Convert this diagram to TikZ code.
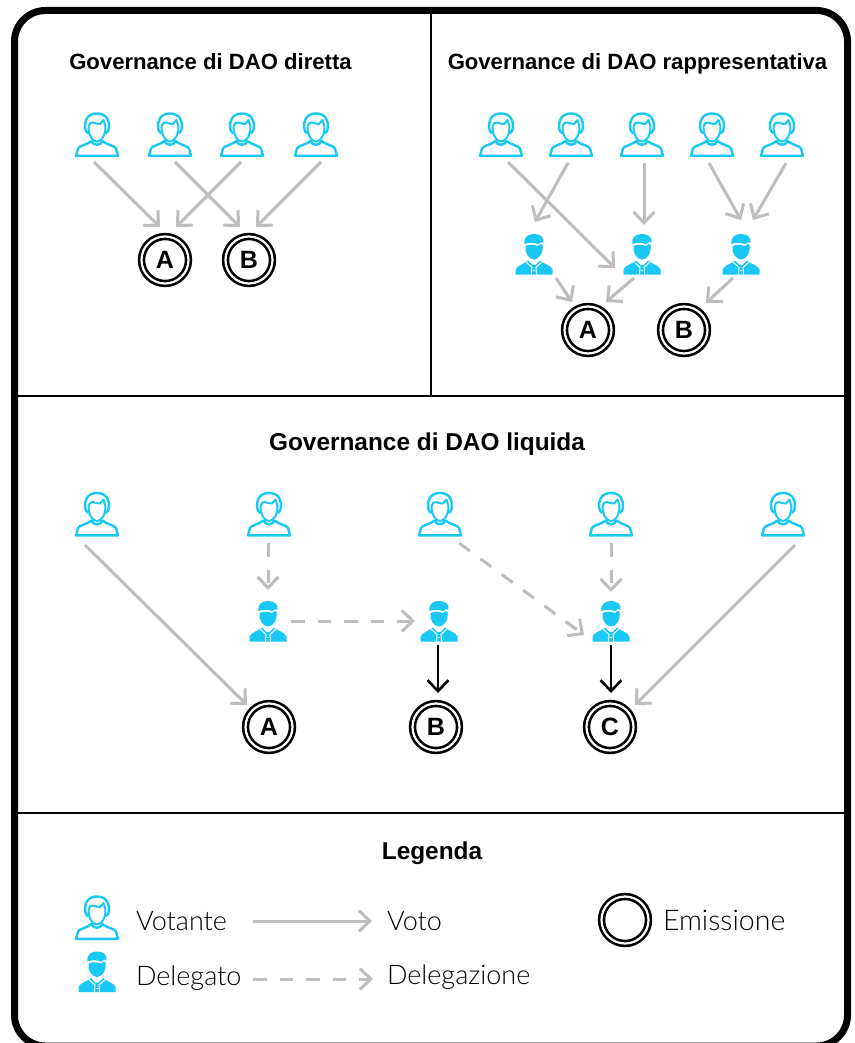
\documentclass[tikz,border=0pt]{standalone}
\usepackage{fontspec}
\setmainfont{Liberation Sans}
\newfontfamily\lightfont{Lato Light}
\usetikzlibrary{arrows.meta}
\definecolor{cy}{HTML}{19C8F5}
\definecolor{gr}{HTML}{BDBDBD}
\tikzset{
  x=1pt,y=-1pt,
  every node/.style={inner sep=0pt,outer sep=0pt},
  frame/.style={draw=black,line width=7pt,rounded corners=31pt},
  divider/.style={draw=black,line width=2pt},
  person/.style={minimum width=44pt,minimum height=45pt},
  boss/.style={minimum width=38pt,minimum height=40pt},
  issue/.style={circle,draw=black,line width=2.6pt,double=white,double distance=2.2pt,minimum size=47pt,font=\fontsize{25}{25}\selectfont\bfseries},
  title/.style={anchor=base,font=\fontsize{22.1}{24}\selectfont\bfseries},
  bigtitle/.style={anchor=base,font=\fontsize{24.4}{26}\selectfont\bfseries},
  legtext/.style={anchor=base west,text=black,font=\fontsize{27}{30}\selectfont\lightfont},
  vote/.style={draw=gr,line width=3pt,-{Straight Barb[length=11pt,width=21pt,line width=3pt]}},
  deleg/.style={vote,dash pattern=on 13.5pt off 13pt},
  strong/.style={draw=black,line width=2.6pt,-{Straight Barb[length=11pt,width=21pt,line width=2.6pt]}},
  voter/.pic={
    % shoulders and bottom
    \draw[cy,line width=2.4pt,line join=round]
      (-21,21.3) -- (-19,14) .. controls (-18.5,11.5) and (-9,10) .. (-5.5,6.5)
      .. controls (-4,11.5) and (4,11.5) .. (5.5,6.5)
      .. controls (9,10) and (18.5,11.5) .. (19,14) -- (21,21.3) -- cycle;
    % hair outline
    \draw[cy,line width=2.4pt,line join=round]
      (-8.5,-1) .. controls (-10.5,-2) and (-11.5,-4) .. (-11.8,-6)
      .. controls (-13,-13) and (-10,-21) .. (0,-21)
      .. controls (10,-21) and (13,-13) .. (11.8,-6)
      .. controls (11.5,-4) and (10.5,-2) .. (8.5,-1);
    % fringe
    \draw[cy,line width=2pt,line join=round]
      (-8.5,-8) .. controls (-8,-11) and (-6,-12.5) .. (-4,-12)
      .. controls (-1,-11) and (1,-10.5) .. (3,-10.5)
      -- (6.5,-14.5) -- (8.5,-8);
    % face
    \draw[cy,line width=2pt,line join=round]
      (-8.5,-8) .. controls (-8.5,1) and (-4.5,7) .. (0,7)
      .. controls (4.5,7) and (8.5,1) .. (8.5,-8);
  },
  bosspic/.pic={
    % hair
    \fill[cy] (-9.5,-10) .. controls (-10.5,-17) and (-6,-20) .. (0,-20)
      .. controls (6,-20) and (10.5,-17) .. (9.5,-11) -- (7.5,-12) -- (4,-9.8)
      .. controls (0,-11.8) and (-6,-11.5) .. (-9.5,-10) -- cycle;
    % face
    \fill[cy] (-8.5,-8) .. controls (-5,-9.5) and (0,-10) .. (3.7,-7.8) -- (6.8,-10) -- (8.7,-9.2)
      .. controls (9.5,-1) and (5,5.5) .. (0,5.5) .. controls (-5,5.5) and (-9.5,-1) .. (-8.5,-8) -- cycle;
    % body
    \fill[cy] (-18.5,20.5) -- (-18.5,15.5) .. controls (-17,11.5) and (-10,10) .. (-6,6.5)
      -- (-1.5,11) -- (1.5,11) -- (6,6.5) .. controls (10,10) and (17,11.5) .. (18.5,15.5)
      -- (18.5,20.5) -- cycle;
    % collar and tie, white over the body
    \draw[white,line width=1pt] (-8,8) -- (-2,13.5) -- (-2.6,20.5);
    \draw[white,line width=1pt] (8,8) -- (2,13.5) -- (2.6,20.5);
    \fill[white] (-1,16) rectangle (1,17);
  },
}
\begin{document}
\begin{tikzpicture}
\useasboundingbox (0,0) rectangle (854,1043);
\fill[white] (0,0) rectangle (854,1043);
% frame and dividers
\coordinate (tl) at (14.5,10.5); \coordinate (br) at (847.5,1046);
\coordinate (m1) at (431,14); \coordinate (m2) at (431,396);
\coordinate (h1l) at (18,396); \coordinate (h1r) at (844,396);
\coordinate (h2l) at (18,813); \coordinate (h2r) at (844,813);
\draw[divider] (m1) -- (m2);
\draw[divider] (h1l) -- (h1r);
\draw[divider] (h2l) -- (h2r);
\draw[frame] (tl) rectangle (br);
% titles
\node[title] (t1) at (210.5,70) {Governance di DAO diretta};
\node[title] (t2) at (637.5,70) {Governance di DAO rappresentativa};
\node[bigtitle] (t3) at (427,450) {Governance di DAO liquida};
\node[bigtitle] (t4) at (432,859) {Legenda};
% icons
\foreach \n/\px/\py in {v1/97/134.5,v2/170/134.5,v3/242/134.5,v4/316/134.5,
  r1/501/134.5,r2/571/134.5,r3/642/134.5,r4/712/134.5,r5/782/134.5,
  q1/97/514,q2/269/514,q3/440/514,q4/611/514,q5/783/514,lv/97/917.5}{
  \node[person] (\n) at (\px,\py) {};
  \pic at (\n) {voter};
}
\foreach \n/\px/\py in {d1/534/254,d2/642/254,d3/741/254,e1/268/621,e2/439/621,e3/611/621,ld/97/971.5}{
  \node[boss] (\n) at (\px,\py) {};
  \pic at (\n) {bosspic};
}
\node[issue] (pa) at (165,260) {A};
\node[issue] (pb) at (249,260) {B};
\node[issue] (ra) at (588,330) {A};
\node[issue] (rb) at (684,330) {B};
\node[issue] (la) at (269,727) {A};
\node[issue] (lb) at (436,727) {B};
\node[issue] (lc) at (610,727) {C};
\node[issue] (li) at (625,920) {};
% panel 1 arrows
\draw[vote] ([shift={(-3,27.5)}]v1.center) -- ([shift={(-5,-33)}]pa.center);
\draw[vote] ([shift={(5,27.5)}]v2.center) -- ([shift={(-9,-33)}]pb.center);
\draw[vote] ([shift={(-1,27.5)}]v3.center) -- ([shift={(11,-33)}]pa.center);
\draw[vote] ([shift={(5,27.5)}]v4.center) -- ([shift={(7,-33)}]pb.center);
% panel 2 arrows
\draw[vote] ([shift={(7,27.5)}]r1.center) -- ([shift={(-27,14)}]d2.center);
\draw[vote] ([shift={(-3,28.5)}]r2.center) -- ([shift={(1,-32)}]d1.center);
\draw[vote] ([shift={(2,28.5)}]r3.center) -- ([shift={(2,-29)}]d2.center);
\draw[vote] ([shift={(-3,28.5)}]r4.center) -- ([shift={(0,-34)}]d3.center);
\draw[vote] ([shift={(4,28.5)}]r5.center) -- ([shift={(12,-34)}]d3.center);
\draw[vote] ([shift={(22,24)}]d1.center) -- ([shift={(-16,-28)}]ra.center);
\draw[vote] ([shift={(-8,24)}]d2.center) -- ([shift={(18,-28)}]ra.center);
\draw[vote] ([shift={(-8,24)}]d3.center) -- ([shift={(22,-27)}]rb.center);
% panel 3 arrows
\draw[vote] ([shift={(-12,31)}]q1.center) -- ([shift={(-22,-22)}]la.center);
\draw[deleg] ([shift={(-1,29)}]q2.center) -- ([shift={(0,-31)}]e1.center);
\draw[deleg] ([shift={(23,0)}]e1.center) -- ([shift={(-24,0)}]e2.center);
\draw[deleg] ([shift={(19,29)}]q3.center) -- ([shift={(-27,14)}]e3.center);
\draw[deleg] ([shift={(0,29)}]q4.center) -- ([shift={(0,-29)}]e3.center);
\draw[vote] ([shift={(12,31)}]q5.center) -- ([shift={(25,-22)}]lc.center);
\draw[strong] ([shift={(-1,24)}]e2.center) -- ([shift={(2,-34)}]lb.center);
\draw[strong] ([shift={(0,24)}]e3.center) -- ([shift={(1,-34)}]lc.center);
% legend
\node[legtext] (lt1) at (136,930) {Votante};
\node[legtext] (lt2) at (136,985) {Delegato};
\node[legtext] (lt3) at (387,930) {Voto};
\node[legtext] (lt4) at (387,984) {Delegazione};
\node[legtext,font=\fontsize{28.5}{30}\selectfont\lightfont] (lt5) at (663,930) {Emissione};
\coordinate (a1s) at (253,921); \coordinate (a1e) at (372,921);
\coordinate (a2s) at (253,979); \coordinate (a2e) at (373,979);
\draw[vote] (a1s) -- (a1e);
\draw[deleg] (a2s) -- (a2e);
\end{tikzpicture}
\end{document}
